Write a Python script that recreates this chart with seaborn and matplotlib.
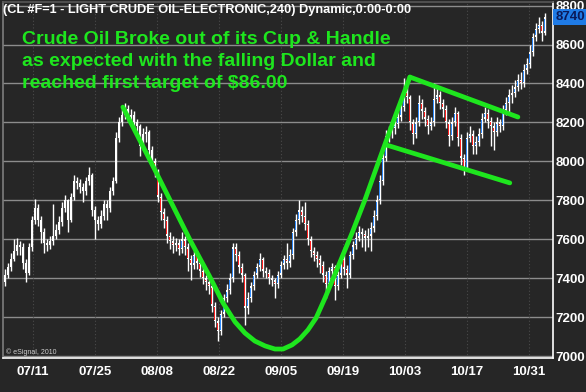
import numpy as np
import pandas as pd
import matplotlib
matplotlib.use("Agg")
import matplotlib.pyplot as plt
import matplotlib.transforms as mtransforms
import seaborn as sns

# ---------------- data ----------------
first_open = 7380
closes = [
    7420, 7460, 7500, 7540, 7570, 7560, 7480, 7430, 7560, 7700,
    7760, 7700, 7640, 7580, 7570, 7590, 7620, 7650, 7690, 7760,
    7800, 7700, 7820, 7900, 7890, 7870, 7850, 7900, 7930, 7750,
    7700, 7680, 7720, 7780, 7760, 7850, 7900, 8120, 8200, 8240,
    8270, 8230, 8240, 8200, 8180, 8080, 8140, 8150, 8060, 8000,
    7950, 7820, 7740, 7700, 7620, 7590, 7570, 7580, 7550, 7600,
    7560, 7500, 7470, 7520, 7480, 7440, 7400, 7380, 7360, 7260,
    7180, 7130, 7220, 7300, 7340, 7400, 7560, 7520, 7460, 7420,
    7250, 7300, 7360, 7420, 7460, 7500, 7440, 7430, 7400, 7390,
    7370, 7420, 7470, 7500, 7480, 7520, 7640, 7700, 7750, 7720,
    7680, 7600, 7540, 7520, 7500, 7470, 7420, 7370, 7440, 7460,
    7360, 7420, 7500, 7450, 7420, 7520, 7570, 7610, 7640, 7630,
    7610, 7620, 7660, 7720, 7800, 7900, 8020, 8130, 8150, 8170,
    8190, 8230, 8280, 8360, 8330, 8200, 8140, 8200, 8300, 8260,
    8220, 8180, 8200, 8320, 8340, 8300, 8270, 8200, 8130, 8200,
    8250, 8120, 8020, 7960, 8120, 8140, 8080, 8100, 8140, 8220,
    8250, 8210, 8180, 8150, 8200, 8180, 8260, 8300, 8340, 8350,
    8380, 8420, 8400, 8470, 8500, 8560, 8640, 8680, 8700, 8660,
    8740,
]
highs = [
    7450, 7480, 7530, 7600, 7610, 7590, 7580, 7500, 7580, 7720,
    7810, 7780, 7720, 7660, 7600, 7620, 7780, 7680, 7720, 7790,
    7830, 7810, 7840, 7930, 7920, 7910, 7890, 7920, 7970, 7940,
    7770, 7720, 7750, 7800, 7800, 7870, 7920, 8150, 8230, 8270,
    8300, 8290, 8270, 8260, 8220, 8190, 8170, 8180, 8160, 8080,
    8020, 7960, 7840, 7760, 7720, 7640, 7620, 7610, 7600, 7640,
    7620, 7580, 7520, 7540, 7540, 7500, 7460, 7420, 7400, 7380,
    7280, 7200, 7240, 7320, 7370, 7430, 7580, 7580, 7540, 7480,
    7430, 7330, 7380, 7440, 7480, 7530, 7510, 7460, 7450, 7420,
    7400, 7440, 7490, 7520, 7580, 7550, 7660, 7730, 7800, 7770,
    7790, 7700, 7620, 7560, 7540, 7520, 7490, 7440, 7460, 7480,
    7470, 7440, 7520, 7520, 7470, 7540, 7590, 7640, 7670, 7660,
    7650, 7660, 7690, 7750, 7830, 7930, 8050, 8160, 8180, 8200,
    8220, 8260, 8320, 8430, 8390, 8340, 8220, 8230, 8340, 8320,
    8280, 8240, 8230, 8400, 8380, 8360, 8320, 8290, 8220, 8230,
    8280, 8260, 8140, 8040, 8150, 8180, 8160, 8130, 8170, 8250,
    8280, 8270, 8230, 8200, 8230, 8220, 8290, 8330, 8370, 8390,
    8420, 8450, 8460, 8500, 8530, 8600, 8660, 8710, 8740, 8720,
    8760,
]
lows = [
    7360, 7400, 7440, 7490, 7520, 7520, 7450, 7380, 7420, 7540,
    7680, 7670, 7580, 7530, 7540, 7550, 7570, 7600, 7630, 7670,
    7740, 7640, 7690, 7800, 7860, 7840, 7790, 7830, 7880, 7720,
    7600, 7650, 7660, 7700, 7700, 7740, 7830, 7890, 8100, 8180,
    8220, 8200, 8200, 8170, 8150, 8030, 8060, 8100, 8030, 7970,
    7920, 7790, 7700, 7660, 7580, 7550, 7530, 7540, 7520, 7530,
    7520, 7440, 7390, 7450, 7450, 7410, 7370, 7340, 7320, 7230,
    7150, 7080, 7110, 7200, 7280, 7320, 7380, 7490, 7430, 7380,
    7160, 7220, 7280, 7340, 7400, 7440, 7410, 7400, 7370, 7360,
    7300, 7350, 7400, 7450, 7450, 7460, 7500, 7620, 7680, 7690,
    7650, 7570, 7510, 7490, 7460, 7430, 7380, 7300, 7350, 7400,
    7290, 7340, 7400, 7420, 7350, 7400, 7500, 7550, 7590, 7560,
    7540, 7560, 7540, 7640, 7700, 7780, 7880, 8000, 8100, 8120,
    8140, 8170, 8210, 8260, 8300, 8160, 8090, 8120, 8180, 8220,
    8180, 8140, 8160, 8180, 8300, 8270, 8230, 8170, 8080, 8110,
    8180, 8080, 7980, 7930, 7950, 8100, 8040, 8040, 8080, 8120,
    8200, 8170, 8080, 8060, 8130, 8150, 8160, 8240, 8250, 8300,
    8330, 8360, 8370, 8380, 8450, 8480, 8540, 8620, 8660, 8620,
    8650,
]
date_labels = ["07/11", "07/25", "08/08", "08/22", "09/05", "09/19", "10/03", "10/17", "10/31"]
price_ticks = [7000, 7200, 7400, 7600, 7800, 8000, 8200, 8400, 8600, 8800]
last_price = 8740

# cup & handle annotation lines (bar index, price)
cup_x = [39.3, 50, 61.7, 68.3, 72.7, 76.7, 80, 83.3, 86.7, 90, 92.7, 95.7, 98.3, 101,
         103.7, 106.7, 111, 115.7, 120, 125, 130, 135]
cup_y = [8279, 7956, 7597, 7408, 7274, 7177, 7120, 7079, 7054, 7038, 7038, 7059, 7090, 7136,
         7197, 7300, 7459, 7633, 7803, 8018, 8228, 8433]
handle_top_x = [135, 171]
handle_top_y = [8433, 8228]
handle_bot_x = [127.3, 168.3]
handle_bot_y = [8084, 7890]

title = "(CL #F=1 - LIGHT CRUDE OIL-ELECTRONIC,240) Dynamic,0:00-0:00"
note_lines = ["Crude Oil Broke out of its Cup & Handle",
              "as expected with the falling Dollar and",
              "reached first target of $86.00"]

# ---------------- style ----------------
BG = "#262626"
sns.set_theme(style="dark", rc={"axes.facecolor": BG, "figure.facecolor": BG})
plt.rcParams["font.family"] = ["Liberation Sans", "DejaVu Sans"]

W, H = 586, 392
fig = plt.figure(figsize=(W / 100, H / 100), dpi=100)
ax = fig.add_axes([3 / W, 1 - 358 / H, 550 / W, 356 / H])
ax.set_facecolor(BG)

df = pd.DataFrame({"close": closes, "high": highs, "low": lows})
df["open"] = [first_open] + closes[:-1]
df["idx"] = np.arange(len(df))
up = df["close"] >= df["open"]

# horizontal grid
for p in price_ticks:
    ax.axhline(p, color="#8c8c8c", lw=1.0, zorder=1)

# date ticks (10 trading days = ~20.67 bars)
tick_pos = [9.3 + 20.67 * k for k in range(len(date_labels))]
for t in tick_pos:
    ax.axvline(t, color="#4a4a4a", lw=0.8, ls=(0, (1, 2)), zorder=1)

# candles
ax.vlines(df["idx"], df["low"], df["high"], color="white", lw=1.0, zorder=3)
body_lo = df[["open", "close"]].min(axis=1)
body_h = (df["close"] - df["open"]).abs().clip(lower=8)
ax.bar(df["idx"], body_h, bottom=body_lo, width=0.85, color="white", linewidth=0, zorder=4)
colors = np.where(up, "#2f8cff", "#ff2020")
ax.bar(df["idx"], (body_h - 14).clip(lower=0), bottom=body_lo + 7, width=0.32,
       color=colors, linewidth=0, zorder=5)

# green cup & handle
green = "#1ee61e"
for xs, ys in [(cup_x, cup_y), (handle_top_x, handle_top_y), (handle_bot_x, handle_bot_y)]:
    sns.lineplot(x=xs, y=ys, ax=ax, color=green, lw=3.4, sort=False, zorder=6,
                 solid_joinstyle="round", solid_capstyle="round")

# axes limits & ticks
ax.set_xlim(-0.67, 182.7)
ax.set_ylim(6992, 8818)
ax.yaxis.tick_right()
ax.set_yticks(price_ticks)
ax.set_yticklabels([str(p) for p in price_ticks])
ax.set_xticks(tick_pos)
ax.set_xticklabels(date_labels)
ax.tick_params(axis="both", length=0, colors="white", labelsize=9.5)
ax.tick_params(axis="x", pad=6)
ax.tick_params(axis="y", pad=2)
for lab in ax.get_xticklabels() + ax.get_yticklabels():
    lab.set_fontweight("bold")
ax.grid(False)
ax.set_xlabel("")
ax.set_ylabel("")

for s in ["bottom", "right"]:
    ax.spines[s].set_color("white")
    ax.spines[s].set_linewidth(1.2)
ax.spines["left"].set_color("#7a7a7a")
ax.spines["top"].set_color("#555555")

# last-price box
trans = mtransforms.blended_transform_factory(ax.transAxes, ax.transData)
ax.text(1.004, last_price, str(last_price), transform=trans, ha="left", va="center",
        fontsize=9.5, color="#0a1a5a", fontweight="bold", zorder=10, clip_on=False,
        bbox=dict(boxstyle="square,pad=0.15", fc="#1f7be6", ec="none"))

# title and notes
fig.text(3 / W, 1 - 10 / H, title, color="white", fontsize=9.2, fontweight="bold",
         ha="left", va="center")
for k, line in enumerate(note_lines):
    fig.text(22 / W, 1 - (40 + 21.5 * k) / H, line, color=green, fontsize=14,
             fontweight="bold", ha="left", va="center")
fig.text(6 / W, 1 - 352 / H, "\u00a9 eSignal, 2010", color="#d0d0d0", fontsize=5,
         ha="left", va="center")

fig.savefig("out.png", dpi=100, facecolor=BG)
